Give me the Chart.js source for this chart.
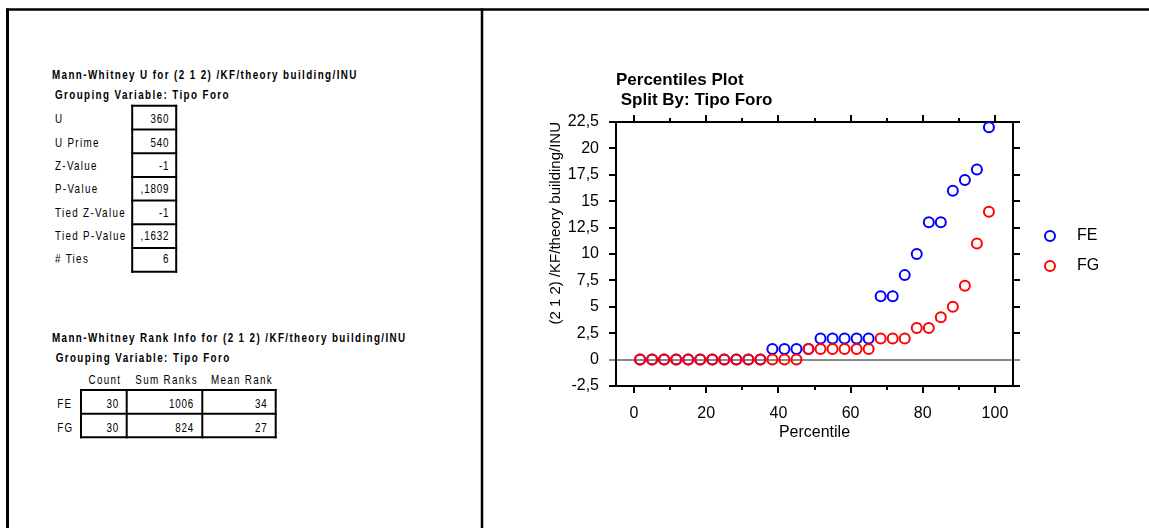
<!DOCTYPE html>
<html>
<head>
<meta charset="utf-8">
<title>Mann-Whitney U / Percentiles Plot</title>
<script src="https://cdn.jsdelivr.net/npm/chart.js@4.4.1/dist/chart.umd.min.js"></script>
<style>
  html, body { margin: 0; padding: 0; background: #fff; }
  #page { position: relative; width: 1149px; height: 528px; overflow: hidden; background: #fff; }
  #report, #plot { position: absolute; left: 0; top: 0; }
</style>
</head>
<body>
<div id="page">
  <svg id="report" width="1149" height="528" xmlns="http://www.w3.org/2000/svg"></svg>
  <canvas id="plot" width="1149" height="528"></canvas>
</div>
<script>
// ---- Mann-Whitney U summary ----
const variableName = '(2 1 2) /KF/theory building/INU';
const groupingVariable = 'Tipo Foro';
const statLabels = ['U', 'U Prime', 'Z-Value', 'P-Value', 'Tied Z-Value', 'Tied P-Value', '# Ties'];
const statValues = ['360', '540', '-1', ',1809', '-1', ',1632', '6'];

// ---- Mann-Whitney rank info ----
const rankHeaders = ['Count', 'Sum Ranks', 'Mean Rank'];
const rankGroups = ['FE', 'FG'];
const rankCounts = ['30', '30'];
const rankSums = ['1006', '824'];
const rankMeans = ['34', '27'];

// ---- Percentiles plot ----
const percentiles = [1.67, 5, 8.33, 11.67, 15, 18.33, 21.67, 25, 28.33, 31.67,
                     35, 38.33, 41.67, 45, 48.33, 51.67, 55, 58.33, 61.67, 65,
                     68.33, 71.67, 75, 78.33, 81.67, 85, 88.33, 91.67, 95, 98.33];
const feValues = [0, 0, 0, 0, 0, 0, 0, 0, 0, 0,
                  0, 1, 1, 1, 1, 2, 2, 2, 2, 2,
                  6, 6, 8, 10, 13, 13, 16, 17, 18, 22];
const fgValues = [0, 0, 0, 0, 0, 0, 0, 0, 0, 0,
                  0, 0, 0, 0, 1, 1, 1, 1, 1, 1,
                  2, 2, 2, 3, 3, 4, 5, 7, 11, 14];
const seriesNames = ['FE', 'FG'];
const seriesColors = ['#0000ff', '#ff0000'];
const xTickValues = [0, 10, 20, 30, 40, 50, 60, 70, 80, 90, 100];
const yTickValues = [-2.5, 0, 2.5, 5, 7.5, 10, 12.5, 15, 17.5, 20, 22.5];
const plotTitle = ['Percentiles Plot', ' Split By: ' + groupingVariable];

// ================= report panel (SVG) =================
const NS = 'http://www.w3.org/2000/svg';
const svg = document.getElementById('report');
function make(name, attrs, parent) {
  const node = document.createElementNS(NS, name);
  for (const k in attrs) node.setAttribute(k, attrs[k]);
  (parent || svg).appendChild(node);
  return node;
}
function rule(x1, y1, x2, y2, w) {
  make('line', { x1, y1, x2, y2, stroke: '#000', 'stroke-width': w });
}

// page frame
rule(6, 9.5, 1149, 9.5, 2.5);
rule(7.5, 8.5, 7.5, 528, 3);
rule(482, 8.5, 482, 528, 2.5);

// narrow face: regular sans compressed horizontally
const SQ = 0.82;
const textGroup = make('g', {
  transform: 'scale(' + SQ + ' 1)',
  'font-family': '"Liberation Sans", Arial, Helvetica, sans-serif',
  'font-size': '12', fill: '#000'
});
function label(x, baseline, str, opts) {
  opts = opts || {};
  const spacing = opts.spacing != null ? opts.spacing : (opts.bold ? 1.7 : 1.6);
  let px = x;
  if (opts.end) px = x + spacing * SQ;
  const t = make('text', {
    x: (px / SQ).toFixed(2), y: baseline,
    'text-anchor': opts.end ? 'end' : 'start',
    'font-weight': opts.bold ? 'bold' : 'normal',
    style: 'letter-spacing:' + spacing + 'px; white-space:pre'
  }, textGroup);
  t.textContent = str;
}

// U statistics block
label(52, 79.3, 'Mann-Whitney U for ' + variableName, { bold: true });
label(55, 99.3, 'Grouping Variable: ' + groupingVariable, { bold: true });
const statTop = 105.8, statRow = 23.7;
statLabels.forEach((s, i) => {
  const base = 123.3 + i * 23.33;
  label(55, base, s);
  label(168.5, base, statValues[i], { end: true, spacing: 1.0 });
});
rule(132.2, statTop - 1, 132.2, statTop + statRow * statLabels.length + 1, 2);
rule(176.2, statTop - 1, 176.2, statTop + statRow * statLabels.length + 1, 2);
for (let i = 0; i <= statLabels.length; i++) {
  const y = statTop + i * statRow;
  rule(131.2, y, 177.2, y, 2);
}

// rank info block
label(52, 341.7, 'Mann-Whitney Rank Info for ' + variableName, { bold: true });
label(55.7, 361.7, 'Grouping Variable: ' + groupingVariable, { bold: true });
const headerEnds = [120, 196.7, 271.7];
rankHeaders.forEach((h, j) => label(headerEnds[j], 384.3, h, { end: true }));
const colEdges = [81, 126.7, 202.3, 275.7];
const rankTop = 390, rankRow = 23.65;
const valueEnds = [118.3, 193.3, 266.7];
rankGroups.forEach((g, i) => {
  const base = 408.3 + i * 23.4;
  label(57.3, base, g);
  [rankCounts[i], rankSums[i], rankMeans[i]].forEach((v, j) =>
    label(valueEnds[j], base, v, { end: true, spacing: 1.0 }));
});
colEdges.forEach(x => rule(x, rankTop - 1, x, rankTop + rankRow * rankGroups.length + 1, 2));
for (let i = 0; i <= rankGroups.length; i++) {
  const y = rankTop + i * rankRow;
  rule(colEdges[0] - 1, y, colEdges[colEdges.length - 1] + 1, y, 2);
}

// ================= percentiles plot (Chart.js) =================
Chart.defaults.font.family = '"Liberation Sans", Arial, Helvetica, sans-serif';
Chart.defaults.color = '#000';

const ZERO_LINE = '#8a8a8a';
const isMinorX = ctx => ctx.tick && ctx.tick.value % 20 !== 0;
const isZeroY = ctx => ctx.tick && ctx.tick.value === 0;

const axisBorder = { display: true, color: '#000', width: 2 };
const setXTicks = scale => { scale.ticks = xTickValues.map(value => ({ value })); };
const setYTicks = scale => { scale.ticks = yTickValues.map(value => ({ value })); };

// legend at the right of the plot frame, drawn with each dataset's own style
const sideLegend = {
  id: 'sideLegend',
  afterDraw(chart) {
    const { ctx, chartArea } = chart;
    const cx = chartArea.right + 37;
    const y0 = chartArea.top + 114;
    ctx.save();
    chart.data.datasets.forEach((ds, k) => {
      const cy = y0 + k * 30;
      ctx.beginPath();
      ctx.arc(cx, cy, 5, 0, Math.PI * 2);
      ctx.lineWidth = 2;
      ctx.strokeStyle = ds.borderColor;
      ctx.stroke();
      ctx.fillStyle = '#000';
      ctx.font = '16px "Liberation Sans", Arial, Helvetica, sans-serif';
      ctx.textAlign = 'left';
      ctx.textBaseline = 'middle';
      ctx.fillText(ds.label, cx + 27, cy);
    });
    ctx.restore();
  }
};

const seriesValues = [feValues, fgValues];

new Chart(document.getElementById('plot'), {
  type: 'scatter',
  data: {
    datasets: seriesNames.map((name, s) => ({
      label: name,
      data: percentiles.map((p, i) => ({ x: p, y: seriesValues[s][i] })),
      borderColor: seriesColors[s],
      backgroundColor: 'rgba(0,0,0,0)',
      pointStyle: 'circle',
      pointRadius: 5,
      pointBorderWidth: 2,
      borderWidth: 2,
      showLine: false,
      clip: false,
      order: s === 0 ? 2 : 1
    }))
  },
  options: {
    responsive: false,
    animation: false,
    events: [],
    layout: { padding: { left: 547, right: 129, top: 60, bottom: 86 } },
    plugins: {
      legend: { display: false },
      tooltip: { enabled: false },
      title: {
        display: true,
        text: plotTitle,
        align: 'start',
        fullSize: false,
        color: '#000',
        font: { size: 17, weight: 'bold', lineHeight: '20px' },
        padding: { top: 10.7, bottom: 4.3 }
      }
    },
    scales: {
      x: {
        type: 'linear', position: 'bottom', min: -5, max: 105,
        afterBuildTicks: setXTicks,
        afterFit: s => { s.height = 56; },
        ticks: {
          autoSkip: false, maxRotation: 0, padding: 11,
          font: { size: 16 },
          callback: v => (v % 20 === 0 ? String(v) : '')
        },
        grid: {
          drawOnChartArea: false, tickLength: 7, tickWidth: 2, lineWidth: 2, tickColor: '#000',
          tickBorderDash: ctx => (isMinorX(ctx) ? [3, 30] : [])
        },
        border: axisBorder,
        title: { display: true, text: 'Percentile', font: { size: 16, lineHeight: '18px' }, padding: 0 }
      },
      x2: {
        type: 'linear', position: 'top', min: -5, max: 105,
        afterBuildTicks: setXTicks,
        afterFit: s => { s.height = 7; },
        ticks: { display: false, autoSkip: false },
        grid: {
          drawOnChartArea: false, tickLength: 7, tickWidth: 2, lineWidth: 2, tickColor: '#000',
          tickBorderDash: ctx => (isMinorX(ctx) ? [3, 30] : []),
          tickBorderDashOffset: ctx => (isMinorX(ctx) ? 30 : 0)
        },
        border: axisBorder
      },
      y: {
        type: 'linear', position: 'left', min: -2.5, max: 22.5,
        afterBuildTicks: setYTicks,
        afterFit: s => { s.width = 69; },
        ticks: {
          autoSkip: false, padding: 10,
          font: { size: 16 },
          callback: v => String(v).replace('.', ',')
        },
        grid: {
          drawOnChartArea: true, tickLength: 7, tickWidth: 2, lineWidth: 2,
          color: ctx => (isZeroY(ctx) ? ZERO_LINE : 'rgba(0,0,0,0)'),
          tickColor: ctx => (isZeroY(ctx) ? ZERO_LINE : '#000')
        },
        border: axisBorder,
        title: {
          display: true, text: variableName, align: 'end',
          font: { size: 15, lineHeight: '18px' }, padding: 0
        }
      },
      y2: {
        type: 'linear', position: 'right', min: -2.5, max: 22.5,
        afterBuildTicks: setYTicks,
        afterFit: s => { s.width = 7; },
        ticks: { display: false, autoSkip: false },
        grid: {
          drawOnChartArea: false, tickLength: 7, tickWidth: 2, lineWidth: 2,
          tickColor: ctx => (isZeroY(ctx) ? ZERO_LINE : '#000')
        },
        border: axisBorder
      }
    }
  },
  plugins: [sideLegend]
});
</script>
</body>
</html>
